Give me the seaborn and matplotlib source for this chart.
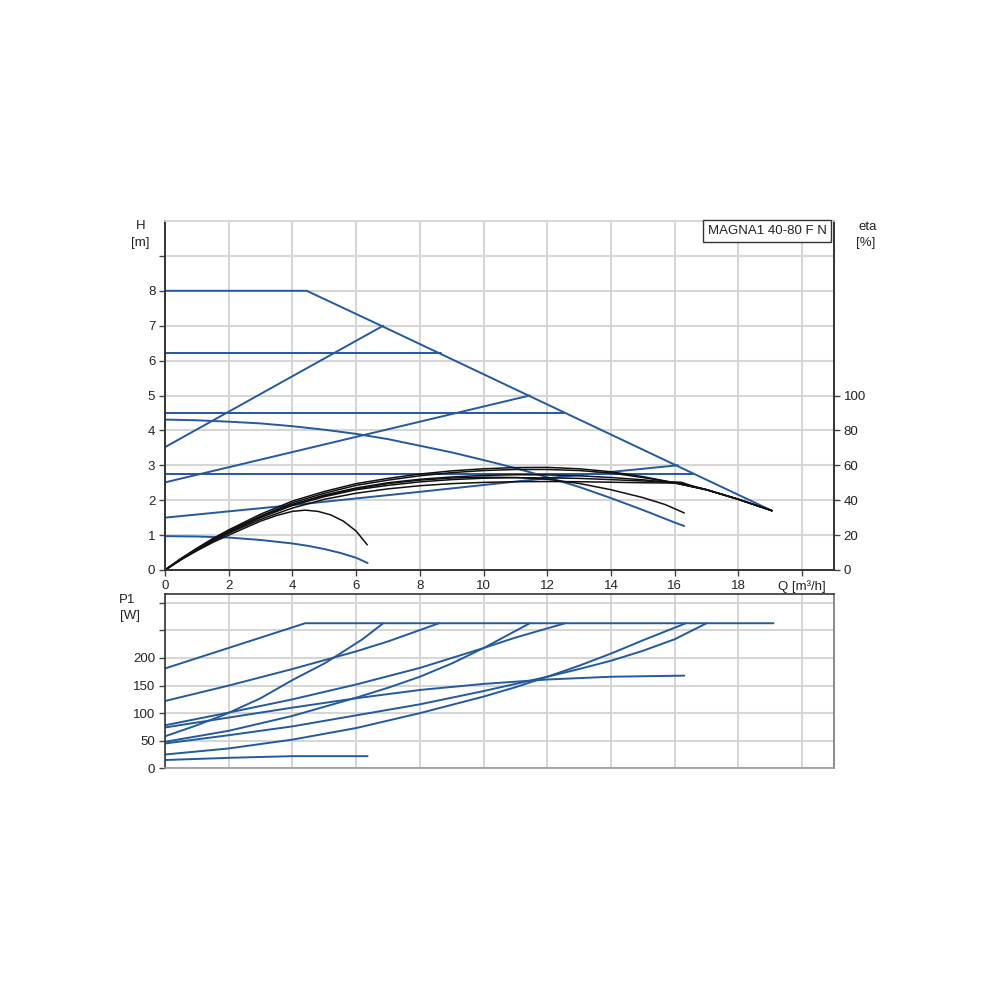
import matplotlib
matplotlib.use("Agg")
import numpy as np
import pandas as pd
import matplotlib.pyplot as plt
import seaborn as sns

# ── data ──────────────────────────────────────────────────────────────────────
# head curves H [m] vs Q [m3/h]
max_q = [0, 4.45, 6.9, 11.5, 16.2, 19.05]
max_h = [8.0, 8.0, 6.95, 4.96, 2.93, 1.7]
cp62_q = [0, 8.67]
cp62_h = [6.22, 6.22]
cp45_q = [0, 12.54]
cp45_h = [4.49, 4.49]
cp275_q = [0, 16.56]
cp275_h = [2.76, 2.76]
pp35_q = [0, 6.85]
pp35_h = [3.52, 7.0]
pp25_q = [0, 11.45]
pp25_h = [2.51, 5.0]
pp15_q = [0, 4, 8, 12, 16.1]
pp15_h = [1.5, 1.86, 2.24, 2.63, 3.0]
fs_q = [0, 1, 2, 3, 4, 5, 6, 7, 8, 9, 10, 11, 12, 13, 14, 15, 16, 16.3]
fs_h = [4.31, 4.29, 4.25, 4.2, 4.12, 4.02, 3.9, 3.75, 3.56, 3.37, 3.15, 2.92,
        2.66, 2.38, 2.06, 1.72, 1.36, 1.26]
min_q = [0, 1, 2, 3, 4, 4.5, 5, 5.5, 6, 6.36]
min_h = [0.97, 0.96, 0.93, 0.86, 0.76, 0.69, 0.6, 0.49, 0.35, 0.2]

# efficiency curves eta [%]
eq = [0, 0.5, 1, 1.5, 2, 3, 4, 5, 6, 7, 8, 9, 10, 11, 12, 13, 14, 15, 16, 17, 18, 19.05]
eta1 = [0, 6.6, 12.5, 18, 23, 32, 39.5, 45, 49.5, 52.5, 55, 56.8, 58, 58.7, 58.8,
        58, 56.3, 53.5, 50, 46, 40.5, 34]
eta2 = [0, 6.3, 12, 17.5, 22.5, 31, 38.5, 44, 48.5, 51.5, 54, 55.8, 57, 57.6, 57.6,
        57, 55.6, 53, 50, 46, 40.5, 34]
eta3 = [0, 6.3, 12, 17.2, 22, 30.5, 37.5, 43, 47, 50, 52, 53.3, 54.2, 54.6, 54.5,
        54, 53, 51.7, 49.8, 46, 40.5, 34]
eta4_q = [0, 0.5, 1, 1.5, 2, 3, 4, 5, 6, 7, 8, 9, 10, 11, 12, 13, 14, 15, 16.2, 16.5,
          17, 18, 19.05]
eta4 = [0, 6, 11.5, 16.8, 21.5, 30, 37, 42, 46, 48.5, 50.5, 51.8, 52.6, 52.9, 52.8,
        52.5, 51.8, 51, 50.3, 48.5, 46, 40.5, 34]
eta5 = [0, 6, 11.5, 16.5, 21, 29, 35.5, 40.5, 44, 46.5, 48.3, 49.5, 50.2, 50.6, 50.7,
        50.6, 50.3, 50, 49.8, 48, 46, 40.5, 34]
etafs_q = [0, 0.5, 1, 1.5, 2, 3, 4, 5, 6, 7, 8, 9, 10, 11, 12, 13, 14, 15, 15.7, 16.3]
etafs = [0, 6.3, 12, 17.2, 22, 30.5, 37.5, 42.5, 46.5, 49.5, 51.5, 52.7, 53.2, 53,
         52, 49.6, 46, 41.5, 37.5, 32.7]
etamin_q = [0, 0.5, 1, 1.5, 2, 2.5, 3, 3.5, 4, 4.4, 4.8, 5.2, 5.6, 6.0, 6.35]
etamin = [0, 5.8, 11, 15.8, 20, 24, 28, 31.2, 33.6, 34.3, 33.6, 31.6, 28, 22.3, 14.4]

# power curves P1 [W]
p_max_q = [0, 4.4, 19.1]
p_max = [181, 263, 263]
p_cp62_q = [0, 2, 4, 6, 7, 8.6]
p_cp62 = [122, 150, 180, 212, 230, 263]
p_pp35_q = [0, 1, 1.9, 3, 4, 5, 5.5, 6.2, 6.85]
p_pp35 = [58, 78, 98, 127, 160, 190, 208, 234, 263]
p_cp45_q = [0, 2, 4, 6, 8, 10, 11, 12.56]
p_cp45 = [78, 101, 125, 152, 182, 218, 237, 263]
p_pp25_q = [0, 2, 4, 6, 7, 8, 9, 10, 11.45]
p_pp25 = [48, 68, 95, 128, 146, 166, 190, 218, 263]
p_fs_q = [0, 2, 4, 6, 8, 10, 12, 14, 16.3]
p_fs = [74, 92, 110, 127, 142, 153, 161, 166, 168]
p_cp275_q = [0, 2, 4, 6, 8, 10, 12, 13, 14, 15, 16, 17.0]
p_cp275 = [45, 60, 76, 96, 116, 140, 166, 180, 195, 213, 234, 263]
p_pp15_q = [0, 2, 4, 6, 8, 10, 11, 12, 13, 14, 15, 16.35]
p_pp15 = [25, 36, 52, 73, 100, 130, 147, 166, 186, 208, 232, 263]
p_min_q = [0, 2, 4, 6.36]
p_min = [15, 19, 22, 22]

x_ticks = [0, 2, 4, 6, 8, 10, 12, 14, 16, 18, 20]
x_labels = ["0", "2", "4", "6", "8", "10", "12", "14", "16", "18", "Q [m³/h]"]


def long_frame(curves):
    rows = []
    for name, (q, v) in curves.items():
        for qq, vv in zip(q, v):
            rows.append({"curve": name, "Q": qq, "val": vv})
    return pd.DataFrame(rows)


head_df = long_frame({
    "max": (max_q, max_h), "cp62": (cp62_q, cp62_h), "cp45": (cp45_q, cp45_h),
    "cp275": (cp275_q, cp275_h), "pp35": (pp35_q, pp35_h), "pp25": (pp25_q, pp25_h),
    "pp15": (pp15_q, pp15_h), "fs": (fs_q, fs_h), "min": (min_q, min_h),
})
eta_df = long_frame({
    "e1": (eq, eta1), "e2": (eq, eta2), "e3": (eq, eta3), "e4": (eta4_q, eta4),
    "e5": (eta4_q, eta5), "efs": (etafs_q, etafs), "emin": (etamin_q, etamin),
})
power_df = long_frame({
    "max": (p_max_q, p_max), "cp62": (p_cp62_q, p_cp62), "pp35": (p_pp35_q, p_pp35),
    "cp45": (p_cp45_q, p_cp45), "pp25": (p_pp25_q, p_pp25), "fs": (p_fs_q, p_fs),
    "cp275": (p_cp275_q, p_cp275), "pp15": (p_pp15_q, p_pp15), "min": (p_min_q, p_min),
})

# ── style ─────────────────────────────────────────────────────────────────────
sns.set_theme(style="white")
plt.rcParams["font.family"] = ["Liberation Sans", "DejaVu Sans"]
BLUE = "#24599b"
GRID = "#d6d6d6"
TXT = "#222222"
FS = 9.5

fig = plt.figure(figsize=(10, 10), dpi=100)
ax_h = fig.add_axes([0.165, 0.43, 0.669, 0.349])
ax_e = ax_h.twinx()
ax_p = fig.add_axes([0.165, 0.2317, 0.669, 0.1743])

# ── H / eta panel ─────────────────────────────────────────────────────────────
sns.lineplot(data=head_df, x="Q", y="val", units="curve", estimator=None, sort=False,
             color=BLUE, lw=1.4, ax=ax_h)
sns.lineplot(data=eta_df, x="Q", y="val", units="curve", estimator=None, sort=False,
             color="#111111", lw=1.1, ax=ax_e)

ax_h.set_xlim(0, 21)
ax_h.set_ylim(0, 10)
ax_h.set_xticks(x_ticks)
ax_h.set_xticklabels(x_labels)
ax_h.set_yticks(range(0, 10))
ax_h.set_yticklabels([str(i) for i in range(0, 9)] + [""])
ax_h.grid(True, color=GRID, lw=1.5)
ax_h.set_axisbelow(True)
ax_h.set_xlabel("")
ax_h.set_ylabel("")

ax_e.set_ylim(0, 200)
ax_e.set_yticks(range(0, 101, 20))
ax_e.grid(False)
ax_e.set_ylabel("")

for a in (ax_h, ax_e):
    a.tick_params(length=4, width=1, color="#444444", labelsize=FS, labelcolor=TXT, pad=3)
    for s in a.spines.values():
        s.set_color("#333333")
        s.set_linewidth(1.2)
    a.spines["top"].set_color(GRID)

ax_h.tick_params(axis="x", bottom=True, pad=3)
ax_e.tick_params(axis="y", right=True)

fig.text(0.141, 0.774, "H", ha="center", va="center", fontsize=FS, color=TXT)
fig.text(0.140, 0.757, "[m]", ha="center", va="center", fontsize=FS, color=TXT)
fig.text(0.868, 0.773, "eta", ha="center", va="center", fontsize=FS, color=TXT)
fig.text(0.866, 0.757, "[%]", ha="center", va="center", fontsize=FS, color=TXT)
fig.text(0.767, 0.769, "MAGNA1 40-80 F N", ha="center", va="center", fontsize=FS,
         color=TXT, bbox=dict(boxstyle="square,pad=0.35", fc="white", ec="#333333", lw=1))

# ── P1 panel ──────────────────────────────────────────────────────────────────
sns.lineplot(data=power_df, x="Q", y="val", units="curve", estimator=None, sort=False,
             color=BLUE, lw=1.4, ax=ax_p)
ax_p.set_xlim(0, 21)
ax_p.set_ylim(0, 316)
ax_p.set_xticks(x_ticks)
ax_p.set_xticklabels([])
ax_p.set_yticks(range(0, 301, 50))
ax_p.set_yticklabels(["0", "50", "100", "150", "200", "", ""])
ax_p.grid(True, color=GRID, lw=1.5)
ax_p.set_axisbelow(True)
ax_p.set_xlabel("")
ax_p.set_ylabel("")
ax_p.tick_params(axis="y", left=True, length=4, width=1, color="#444444",
                 labelsize=FS, labelcolor=TXT, pad=3)
ax_p.tick_params(axis="x", bottom=False)
for s in ax_p.spines.values():
    s.set_color("#333333")
    s.set_linewidth(1.2)
ax_p.spines["bottom"].set_color("#999999")
ax_p.spines["right"].set_color("#777777")

fig.text(0.127, 0.400, "P1", ha="center", va="center", fontsize=FS, color=TXT)
fig.text(0.130, 0.384, "[W]", ha="center", va="center", fontsize=FS, color=TXT)

fig.savefig("out.png", dpi=100, facecolor="white")
